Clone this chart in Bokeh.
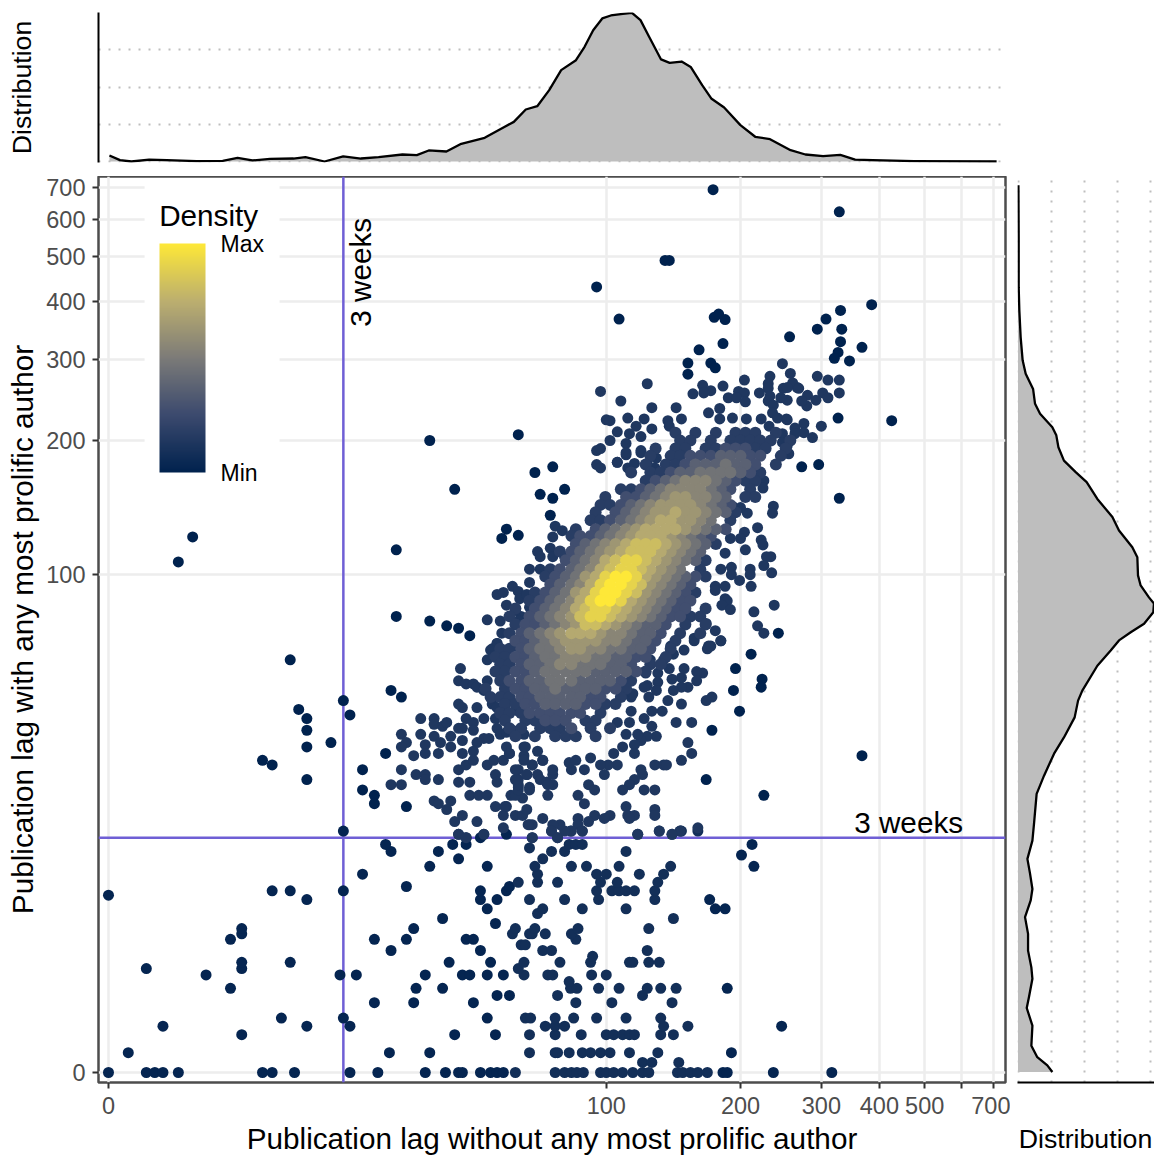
import numpy as np
from bokeh.plotting import figure
from bokeh.layouts import column, row
from bokeh.models import (ColumnDataSource, FixedTicker, LinearColorMapper, ColorBar, Range1d)
from bokeh.embed import file_html
from bokeh.resources import INLINE

# ---------- axis values ----------
tick_values = [0, 100, 200, 300, 400, 500, 600, 700]
x_tick_labels = ["0", "100", "200", "300", "400", "500", "", "700"]
y_tick_labels = ["0", "100", "200", "300", "400", "500", "600", "700"]
three_weeks = 21
x_title = "Publication lag without any most prolific author"
y_title = "Publication lag with any most prolific author"

# ---------- lower scatter, by lag-with row: (lag with, [lags without]) ----------
lower_rows = [
 (0,[0,2,2.5,3,4,11,12,14.5,22,26.6,36,40.7,44,45,50,53,55,57,61,76,80,83,85.5,88.5,97,100,104,109,115,121,125,145,149,155,161,169,183,187,236,316]),
 (0.5,[121,127,146]),
 (1,[1,28.7,37,66,76,77,82,88,92,97,102,113,131,191]),
 (2,[9,43,54.5,66,76,87.5,100,104,109,113,116,133,142]),
 (2.5,[3,16,22,72,76,80,135,153,246]),
 (3,[13,21,52,64.5,66.4,76,84,95,111,133]),
 (4,[26,33.5,48,85,103,141]),
 (4.5,[55,59,77,121]),
 (5,[8,34,40,82.6,85.5,96,107,124,133,144,187]),
 (5.5,[82]),
 (6,[6,20.5,23,36,45,47,52,57,64,73,75,92.5,100]),
 (6.5,[2,9,62]),
 (7,[9,14,41.6,53,64,78,92,113,115,125,132]),
 (7.5,[93]),
 (8,[29,50,71,74.5,124]),
 (8.5,[63,64.5]),
 (9,[8,26,32,46,48,85]),
 (9.5,[9,60,66,67,72,83]),
 (10,[9,33.5,61,68,86,125]),
 (10.5,[54.5]),
 (11,[40,142]),
 (11.5,[69]),
 (12,[52,71,88,111,176,185]),
 (13,[16,50,55,66,80,96,129,171]),
 (13.5,[0]),
 (14,[12,14,21,50,58,95,103,107,111,116,129]),
 (14.5,[32,59]),
 (15,[62,69,77,97,106,131]),
 (16,[24,69,95,100,119,135]),
 (17,[37,52,68,83,90,107,140,214]),
 (18,[44,71]),
 (18.5,[201]),
 (19,[29,39,74.5,80,111]),
 (19.5,[66]),
 (20,[28,42.5,46,82,85,88,212]),
 (21,[46,50,67,77]),
 (21.5,[44,51,58,118,141]),
 (22,[21,74.5,82.6,88,132,147,148,161]),
]

# ---------- isolated points: (lag without, lag with) ----------
far_points = [
 (174,693),(328,622),(136,490),(139,490),(95,430),(37,200),(62,206),(43,156),(425,221),(367,36),(328,149),
 (4,107),(5,122),(30,114),(30,80),(37,78),(41,76),(44,75),(47,72),(14,63),(15,47.5),(16,45),(16,42),(16,38),
 (11,35),(12,34),(16,31),(19.2,39),(21,50),(22,46),(29,53),(31,51),(24,33),(24,29),(26,28),(26,26.5),(32,26),
 (28,36.5),(107,367),(175,370),(179,376),(185,366),(385,394),(330,383),(307,367),(294,349),(256,336),(332,349),
 (330,328),(367,319),(326,311),(320,302),(345,298),(183,325),(162,315),(153,295),(153,279),(172,295),(176,288),
 (211,65),(195,60),(223,56.5),(222,54),(193,53),(199,47),(173,42),(225,28),(168,31),(68,170),(75,175),(70,152),
 (75,149),(80,156),(74,136.5),(58,127),(62,123),(56.5,121),(242,73),(326,224),(272,175),(296,177),
]

# ---------- points around the cloud: (lag without, lag with) ----------
near_points = [
 (31,41),(32,39),(31,38),(33.5,36),(31,33),(29,30),(31,30),(34,32),(36,32),(36,31),(39,31),(35,45),(35,41),
 (38,45),(38,43.5),(40,43),(41,44),(38,40.5),(36,38.5),(36,36.5),(39.5,39),(39,36.5),(42,40.5),(42,38),(45,39.5),
 (45,36.5),(44,42.5),(44,33),(44,30.5),(47,30.5),(47,28),(49.5,28),(52,28),(38,27),(39,26.5),(42,27),(41,25.5),
 (45,24.5),(43,23.5),(49,23.5),(44,21.5),(46,21),(51,21.5),(54.5,26),(58,26),(57,24.5),(57,22.5),(61,24.5),(63.5,24.5),
 (66,23),(67,23),(71,24),(67,21),(44.5,60),(44,56),(46,55),(48,55),(49,54),(51,53),(52,56),(52,63),(53.5,67),(55,69),
 (44,49),(45,48),(49,48),(46,45),(45,42.5),(48,44),(51,45),(48,42),(51,40),(49,39),(52.5,40),(48,37),(46,34),(48,35),
 (52,34),(54,35),(57,35),(54.5,32),(55,30.5),(58,38),(59,36.5),(60,42),(64,41),(64,38),(69,37),(62,33),(62,31),(64,36),
 (67,34),(65,32),(71,35),(69,32),(72.5,30.5),(62,29.5),(66,29.5),(59.5,28),(63.5,27.5),(61,28),(53.5,49),(55,48),(57.5,48.5),
 (54.5,45),(57,46),(55,42.5),(56,41),(62,47),(65,46),(58,41.5),(173,51),(168,50),(153,39),(156,36.5),(148,35),(161,22.5),
 (147,22),(141,21.5),(132,22),(118,21.5),(144,44),(156,44),(148,49),(138,50),(134,47),(127,47),(122,45),(127,43),(113,44),
 (130,40.5),(124,40.5),(120,39.5),(118,41),(111,41),(109,38),(116,38.5),(116,36.5),(104,36.5),(129,34),(135,34),(137,34),
 (120,33),(121,32),(116,31),(113,30),(109,29),(122,29),(129,29),(106,34),(101,34),(99,32),(97,34),(92,35.5),(89,33),(91,30),
 (94,29),(86,28),(89,26.5),(111,26),(112,24.5),(116,24.5),(113,24),(129,25.5),(129,24.5),(102,24.5),(99,24),(94,24.5),(91,23.5),
 (86,24),(86,23),(88,22),(83,22),(80,22),(78,23),(75,23),(74.5,22),(77,21),(73,28),(65.5,23),(57.5,26),(65,25.5),(62,29),
 (66,29),(62,30),(61,31),(65,32),(67,34),(70,31),(72.5,30.5),(75,30),(73,30),(75,32),(71,35),(75,33),(83,33),(82,34.5),(85,35),
 (64,35),(64.5,38),(59,36.5),(61,33),(165,58.5),(160,59),(160,56),(153,54),(148,57),(150,60),(148,54),(142,53),(139,60),(131,58.5),
 (141,56.5),(131,55.5),(130,53),(124,54.5),(122,54),(125,51),(114,51),(111,53),(115,52),(114,47),(106,44),(170,68),(181,70),(158,70),
 (150,66.5),(140,68),(142,65),(135,63),(126,63),(123,58.5),(76,129),(79,126),(75,122),(83,123),(69,113),(74,115),(75,110),(70,110),
 (70,103),(66,103),(80,110),(78,101),(73,99),(66,96),(60,94),(62,91.5),(62.5,88),(65,90),(66,84),(63,80),(55,90),(57,91),(58,85),
 (52,78.5),(56,78),(56.5,73),(55,69),(53,66.5),(61,82.6),(63.5,78),(62,78),(65,74),(61,68),(64,68),(95,190),(95,177),(97,174),
 (106,179),(111,186),(112,174),(116,178),(120,188),(130,183),(124,178),(129,174),(236,143),(235,138),(218,128),(207,138),(200,142),
 (192,143),(204,125),(200,121),(222,120),(224,117),(205,114),(190,121),(185,112),(233,110),(228,110),(225,105),(234,101),(210,103),
 (210,100),(191,104),(191,100),(199,97),(211,94),(181,103),(185,94),(176,94),(176,92),(185,88),(187,87),(182,85),(190,83),(214,82),
 (218,76),(225,73),(237,85),(181,70),(176,74),(169,67),(172,68),(168,77),(158,71),(247,294),(257,280),(294,276),(310,271),(328,271),
 (204,271),(232,276),(230,266),(124,266),(165,264),(172,257),(166,254),(183,263),(157,253),(97,256),(266,261),(260,267),(268,260),
 (248,260),(253,261),(328,254),(302,254),(280,251),(310,248),(292,245),(279,238),(272,244),(253,245),(245,248),(230,260),(220,254),
 (232,250),(230,244),(198,256),(204,254),(188,248),(196,248),(205,243),(236,239),(235,230),(241,224),(252,223),(300,215),(287,203),
 (275,218),(275,208),(263,213),(263,207),(180,235),(170,230),(144,236),(127,236),(108,244),(112,224),(122,223),(100,222),(102,221),
 (117,215),(106,209),(102,200),(97,192),(127,212),(120,204),(113,207),(111,197),(111,188),(106,179),(120,190),(138,221),(139,215),
 (148,223),(192,224),(180,223),(206,223),(222,223),(231,215),(253,222),(247,207),(247,198),(253,195),(255,187),(225,163),(224,157),(212,165),
]

# ---------- the dense cloud, read row by row ----------
# x positions visited along a row (lag without)
x_ladder = [47,48.5,50,51.5,53,54.5,56,57.5,59,61,63,64.5,66,68,70,72,74,76,78,80.5,83,85,87,89.5,92,94.5,97,99.5,102,105,
            108,111,114,117,120,123,126,129.5,133,136.5,140,143.5,147,151,155,159,163,167.5,172,176.5,181,185.5,190,195,200,
            205,210,215.5,221,227,233,239,245,251,257,263.5,270]
# (lag with, first lag without, density of successive points: 1..9 tenths, * = max, . = no point)
cloud_rows = [
 (208,143.5,"1.1.1.111.1."),
 (200,133,"..11.1.11111.1"),
 (192,123,".1.11.1122211.1"),
 (185,120,".1.1122233322.1"),
 (177,117,".1.1123334332.1"),
 (170,114,"1.112334444321"),
 (163,111,"..123455543211"),
 (156,102,".112345555432.1"),
 (150,99.5,"1.22345665543.11"),
 (144,97,"11234566665432"),
 (138.6,94.5,"1.2345667665431"),
 (133,92,"1123456776654.1"),
 (127,85,"1.23456777765432"),
 (122.5,83,"122345677765432"),
 (117.5,80.5,".234567888765431"),
 (113,78,"123456788876543."),
 (108,76,".234578998765431"),
 (103,74,"12345789987654.1"),
 (99,72,"1234679**97654321"),
 (95,70,".234579**9865432."),
 (91,68,"1234679**98654321"),
 (87,66,"1234579**97654322."),
 (83.5,61,"1.2345789987654322.1"),
 (80,59,"1.234568998765432211"),
 (76.5,61,"1223456887654332.1.1"),
 (73,59,"1234567776554332.1.1"),
 (70,57.5,".223456666554332.1"),
 (67,56,"1123445665544332.1."),
 (64,54.5,"1122344555443322.1"),
 (61.5,53,".11233455444332.11"),
 (59,54.5,"1122344444333321."),
 (56,53,".12233444333321."),
 (53.5,51.5,"1.1223343333221."),
 (51,53,"111223333322.1"),
 (49,54.5,".112233332211."),
 (46.5,56,"111222222.1"),
 (44.5,57.5,"1.11222.11"),
 (42.5,59,"11.1112.1.1"),
 (40.5,61,"1.1.111.1"),
]
digit_density = {"1":0.17,"2":0.27,"3":0.37,"4":0.46,"5":0.55,"6":0.63,"7":0.72,"8":0.81,"9":0.91,"*":1.0}

# ---------- density curves ----------
top_lag_log = [0.002,0.024,0.048,0.085,0.122,0.184,0.239,0.270,0.301,0.338,0.387,0.412,0.452,0.491,0.528,0.565,0.615,0.645,0.670,0.707,0.738,0.787,0.830,0.848,0.873,0.897,0.922,0.947,0.978,0.996,1.014,1.033,1.051,1.076,1.095,1.113,1.131,1.156,1.174,1.199,1.218,1.242,1.261,1.288,1.322,1.353,1.384,1.427,1.458,1.495,1.531,1.562,1.599,1.685,1.858]
top_density = [0.040,0.009,0.0,0.013,0.009,0.002,0.004,0.025,0.007,0.018,0.020,0.029,0.0,0.034,0.020,0.029,0.047,0.043,0.074,0.067,0.119,0.159,0.235,0.266,0.349,0.371,0.479,0.613,0.680,0.770,0.881,0.960,0.980,0.991,0.998,0.949,0.837,0.685,0.662,0.671,0.635,0.512,0.423,0.362,0.244,0.166,0.150,0.076,0.047,0.036,0.045,0.013,0.009,0.002,0.0]
right_lag_log = [1.856,1.747,1.643,1.594,1.538,1.490,1.462,1.430,1.399,1.378,1.350,1.333,1.308,1.280,1.256,1.235,1.200,1.162,1.134,1.099,1.078,1.040,1.019,0.994,0.981,0.963,0.939,0.921,0.904,0.883,0.851,0.799,0.778,0.743,0.701,0.667,0.621,0.583,0.520,0.485,0.447,0.416,0.384,0.360,0.325,0.290,0.255,0.220,0.196,0.158,0.135,0.098,0.056,0.032,0.015,0.001]
right_density = [0.003,0.005,0.005,0.010,0.020,0.035,0.058,0.114,0.129,0.167,0.260,0.290,0.306,0.348,0.437,0.520,0.601,0.715,0.765,0.866,0.904,0.909,0.929,0.992,1.030,1.025,0.955,0.854,0.765,0.702,0.601,0.487,0.455,0.429,0.348,0.273,0.197,0.141,0.121,0.109,0.071,0.091,0.109,0.096,0.053,0.076,0.076,0.101,0.109,0.083,0.066,0.109,0.101,0.146,0.222,0.260]

# colour ramp stops
ramp_pos = [0.0, 0.25, 0.5, 0.75, 1.0]
ramp_rgb = [(0, 34, 78), (60, 74, 110), (124, 123, 120), (188, 175, 111), (254, 232, 56)]

FONT = "Liberation Sans"
def lag(v):
    return np.log10(np.asarray(v, dtype=float) + 10) - 1

palette = []
for f in np.linspace(0, 1, 256):
    c = [int(round(np.interp(f, ramp_pos, [s[i] for s in ramp_rgb]))) for i in range(3)]
    palette.append("#%02X%02X%02X" % tuple(c))

# assemble points
xs, ys, ds, ss = [], [], [], []
for p in far_points:
    xs.append(p[0]); ys.append(p[1]); ds.append(0.0); ss.append(11)
for yv, row_x in lower_rows:
    for xv in row_x:
        xs.append(xv); ys.append(yv); ds.append(0.02 if (xv < 60 or xv > 170) else 0.08); ss.append(11)
for p in near_points:
    xs.append(p[0]); ys.append(p[1]); ds.append(0.13); ss.append(11)
for yv, x0, digits in cloud_rows:
    i0 = x_ladder.index(x0)
    for k, c in enumerate(digits):
        if c == ".":
            continue
        xs.append(x_ladder[i0 + 2 * k]); ys.append(yv); ds.append(digit_density[c]); ss.append(12)
order = np.argsort(ds, kind="stable")
xs, ys, ds, ss = (np.array(a, float)[order] for a in (xs, ys, ds, ss))

mapper = LinearColorMapper(palette=palette, low=0, high=1)
tick_pos = [float(lag(v)) for v in tick_values]
xr = (-0.0209, 1.8766)
yr = (-0.0209, 1.8745)

# ---------- main panel ----------
p = figure(width=1010, height=949, output_backend="svg", toolbar_location=None,
           x_range=Range1d(*xr), y_range=Range1d(*yr),
           min_border_left=98, min_border_right=5, min_border_top=0, min_border_bottom=43)
p.background_fill_color = "white"
p.outline_line_color = "#4D4D4D"
p.outline_line_width = 2.5
for ax, labels in ((p.xaxis[0], x_tick_labels), (p.yaxis[0], y_tick_labels)):
    ax.ticker = FixedTicker(ticks=tick_pos)
    ax.major_label_overrides = {t: l for t, l in zip(tick_pos, labels)}
    ax.axis_line_color = None
    ax.major_tick_line_color = "#333333"
    ax.major_tick_line_width = 2
    ax.major_tick_out = 6
    ax.major_tick_in = 0
    ax.minor_tick_line_color = None
    ax.major_label_text_font = FONT
    ax.major_label_text_font_size = "23.5px"
    ax.major_label_text_color = "#4D4D4D"
p.xaxis[0].major_label_standoff = 8
p.yaxis[0].major_label_standoff = 7
ya = p.yaxis[0]
ya.axis_label = y_title
ya.axis_label_text_font = FONT
ya.axis_label_text_font_size = "29.7px"
ya.axis_label_text_font_style = "normal"
ya.axis_label_text_color = "black"
ya.axis_label_standoff = 4
for g in (p.xgrid[0], p.ygrid[0]):
    g.ticker = FixedTicker(ticks=tick_pos)
    g.grid_line_color = "#EDEDED"
    g.grid_line_width = 2.5

# white legend background
p.quad(left=[float(lag(1.9))], right=[float(lag(12.8))], bottom=[float(lag(155))], top=[float(lag(725))],
       fill_color="white", line_color=None)

wk = float(lag(three_weeks))
p.segment(x0=[wk, xr[0]], y0=[yr[0], wk], x1=[wk, xr[1]], y1=[yr[1], wk], line_color="#6F5FD5", line_width=2.5)

src = ColumnDataSource(dict(x=lag(xs), y=lag(ys), d=ds, s=ss))
p.scatter("x", "y", source=src, size="s", marker="circle", line_color=None,
          fill_color={"field": "d", "transform": mapper})

txt = dict(text_font={"value": FONT}, text_font_size={"value": "29.7px"}, text_color="black",
           text_align="center", text_baseline="middle")
p.text(x=[float(lag(462))], y=[float(lag(23.3))], text=["3 weeks"], **txt)
p.text(x=[float(lag(23.6))], y=[float(lag(462))], text=["3 weeks"], angle=[np.pi / 2], **txt)
p.text(x=[float(lag(6.2))], y=[float(lag(610))], text=["Density"], **txt)

cb = ColorBar(color_mapper=mapper, width=46, height=229, location=(61, 610),
              ticker=FixedTicker(ticks=[0, 1]), major_label_overrides={0: "Min", 1: "Max"},
              major_tick_line_color=None, minor_tick_line_color=None, bar_line_color=None, border_line_color=None,
              background_fill_color=None, padding=0, label_standoff=15,
              major_label_text_font=FONT, major_label_text_font_size="23px", major_label_text_color="black")
p.add_layout(cb)

# ---------- top marginal ----------
t = figure(width=1010, height=176, output_backend="svg", toolbar_location=None,
           x_range=Range1d(*xr), y_range=Range1d(-0.0067, 1.0),
           min_border_left=98, min_border_right=5, min_border_top=12, min_border_bottom=14)
t.outline_line_color = None
t.xaxis.visible = False
t.xgrid.visible = False
t.ygrid[0].ticker = FixedTicker(ticks=[0, 0.25, 0.5, 0.75])
t.ygrid[0].grid_line_color = "#BEBEBE"
t.ygrid[0].grid_line_dash = "2 8"
t.ygrid[0].grid_line_width = 2
ay = t.yaxis[0]
ay.ticker = FixedTicker(ticks=[])
ay.axis_line_color = "black"
ay.axis_line_width = 2
ay.axis_label = "Distribution"
ay.axis_label_text_font = FONT
ay.axis_label_text_font_size = "26.7px"
ay.axis_label_text_font_style = "normal"
ay.axis_label_text_color = "black"
ay.axis_label_standoff = 62
t.varea(x=top_lag_log, y1=[0.0] * len(top_lag_log), y2=top_density, fill_color="#BEBEBE")
t.line(top_lag_log, top_density, line_color="black", line_width=2.3, line_join="round")

# ---------- right marginal ----------
r = figure(width=144, height=949, output_backend="svg", toolbar_location=None,
           x_range=Range1d(-0.004, 1.034), y_range=Range1d(*yr),
           min_border_left=7, min_border_right=0, min_border_top=0, min_border_bottom=43)
r.outline_line_color = None
r.yaxis.visible = False
r.ygrid.visible = False
r.xgrid[0].ticker = FixedTicker(ticks=[0, 0.25, 0.5, 0.75, 1.0])
r.xgrid[0].grid_line_color = "#BEBEBE"
r.xgrid[0].grid_line_dash = "2 8"
r.xgrid[0].grid_line_width = 2
ax = r.xaxis[0]
ax.ticker = FixedTicker(ticks=[])
ax.axis_line_color = "black"
ax.axis_line_width = 2
r.harea(y=right_lag_log, x1=[0.0] * len(right_lag_log), x2=right_density, fill_color="#BEBEBE")
r.line(right_density, right_lag_log, line_color="black", line_width=2.3, line_join="round")

# ---------- strip holding the two x titles ----------
s = figure(width=1154, height=30, output_backend="svg", toolbar_location=None,
           x_range=Range1d(0, 1154), y_range=Range1d(0, 30),
           min_border_left=0, min_border_right=0, min_border_top=0, min_border_bottom=0)
s.frame_align = False
s.outline_line_color = None
s.axis.visible = False
s.grid.visible = False
s.text(x=[551.5], y=[17], text=[x_title], **txt)
txt2 = dict(txt); txt2["text_font_size"] = {"value": "26.7px"}
s.text(x=[1085], y=[17], text=["Distribution"], **txt2)

layout = column(t, row(p, r, spacing=0), s, spacing=0)
open("out.html", "w").write(file_html(layout, INLINE))
